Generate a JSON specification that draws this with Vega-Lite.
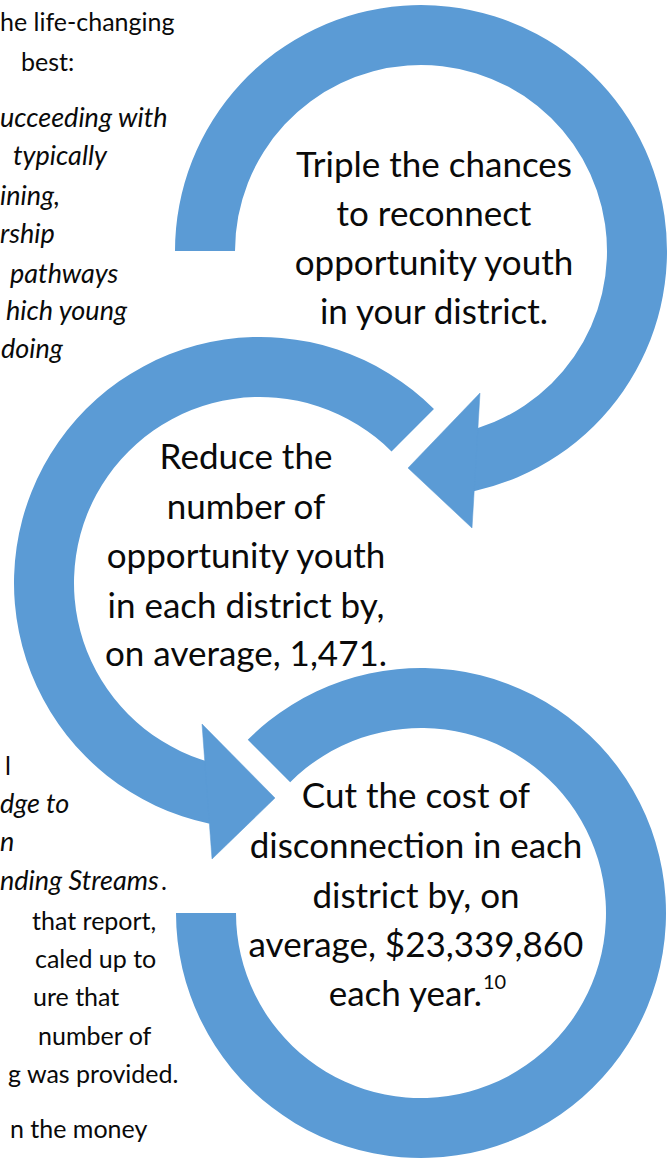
{
  "$schema": "https://vega.github.io/schema/vega-lite/v6.json",
  "width": 669,
  "height": 1159,
  "autosize": {"type": "none"},
  "padding": 0,
  "background": "#ffffff",
  "config": {"view": {"stroke": null}, "text": {"font": "Lato", "color": "#0a0a0a"}},
  "datasets": {
    "rings": [
      {"ring": "Triple", "cx": 421, "cy": 251, "t0": -90, "t1": 167.6, "ro": 246, "ri": 186},
      {"ring": "Reduce", "cx": 260, "cy": 583, "t0": 191.8, "t1": 405, "ro": 246, "ri": 186},
      {"ring": "Cut", "cx": 421, "cy": 913, "t0": -45, "t1": 270, "ro": 245, "ri": 185}
    ],
    "heads": [
      {"id": "a1", "i": 0, "x": 480, "y": 393},
      {"id": "a1", "i": 1, "x": 408, "y": 468},
      {"id": "a1", "i": 2, "x": 472, "y": 528},
      {"id": "a2", "i": 0, "x": 202, "y": 724},
      {"id": "a2", "i": 1, "x": 275, "y": 798},
      {"id": "a2", "i": 2, "x": 212, "y": 859}
    ],
    "ringText": [
      {"t": "Triple the chances", "x": 434, "y": 166},
      {"t": "to reconnect", "x": 434, "y": 215},
      {"t": "opportunity youth", "x": 434, "y": 264},
      {"t": "in your district.", "x": 434, "y": 313},
      {"t": "Reduce the", "x": 246, "y": 458},
      {"t": "number of", "x": 246, "y": 508},
      {"t": "opportunity youth", "x": 246, "y": 557},
      {"t": "in each district by,", "x": 246, "y": 607},
      {"t": "on average, 1,471.", "x": 246, "y": 655},
      {"t": "Cut the cost of", "x": 416, "y": 797},
      {"t": "disconnection in each", "x": 416, "y": 847},
      {"t": "district by, on", "x": 416, "y": 897},
      {"t": "average, $23,339,860", "x": 416, "y": 946}
    ],
    "ringTextEnd": [
      {"t": "each year.", "x": 482, "y": 995}
    ],
    "sup": [
      {"t": "10", "x": 483, "y": 983}
    ],
    "bodyNormal": [
      {"t": "he life-changing", "x": 0, "y": 23},
      {"t": "best:", "x": 21, "y": 63},
      {"t": "l", "x": 5, "y": 767},
      {"t": ".", "x": 161, "y": 882},
      {"t": "that report,", "x": 32, "y": 922},
      {"t": "caled up to", "x": 35, "y": 960},
      {"t": "ure that", "x": 33, "y": 998},
      {"t": "number of", "x": 38, "y": 1037},
      {"t": "g was provided.", "x": 8, "y": 1075},
      {"t": "n the money", "x": 10, "y": 1130}
    ],
    "bodyItalic": [
      {"t": "ucceeding with", "x": 0, "y": 119},
      {"t": "typically", "x": 13, "y": 157},
      {"t": "ining,", "x": 0, "y": 197},
      {"t": "rship", "x": 0, "y": 235},
      {"t": "pathways", "x": 10, "y": 275},
      {"t": "hich young", "x": 6, "y": 312},
      {"t": "doing", "x": 1, "y": 350},
      {"t": "dge to", "x": 0, "y": 805},
      {"t": "n", "x": 0, "y": 843},
      {"t": "nding Streams", "x": 0, "y": 882}
    ]
  },
  "layer": [
    {
      "data": {"name": "rings"},
      "mark": {"type": "arc", "color": "#5B9BD5", "fill": "#5B9BD5"},
      "encoding": {
        "x": {"field": "cx", "type": "quantitative", "scale": {"domain": [0, 669], "nice": false, "zero": false}, "axis": null},
        "y": {"field": "cy", "type": "quantitative", "scale": {"domain": [0, 1159], "nice": false, "zero": false, "reverse": true}, "axis": null},
        "theta": {"field": "t0", "type": "quantitative", "stack": null, "scale": {"domain": [0, 360], "range": [0, 6.283185307179586]}},
        "theta2": {"field": "t1"},
        "radius": {"field": "ro", "type": "quantitative", "scale": {"type": "linear", "domain": [0, 669], "range": [0, 669]}},
        "radius2": {"field": "ri"}
      }
    },
    {
      "data": {"name": "heads"},
      "mark": {"type": "line", "interpolate": "linear-closed", "color": "#5B9BD5", "fill": "#5B9BD5", "strokeWidth": 0.5},
      "encoding": {
        "x": {"field": "x", "type": "quantitative", "scale": {"domain": [0, 669], "nice": false, "zero": false}, "axis": null},
        "y": {"field": "y", "type": "quantitative", "scale": {"domain": [0, 1159], "nice": false, "zero": false, "reverse": true}, "axis": null},
        "detail": {"field": "id"},
        "order": {"field": "i", "type": "quantitative"}
      }
    },
    {
      "data": {"name": "ringText"},
      "mark": {"type": "text", "fontSize": 35, "align": "center", "baseline": "middle"},
      "encoding": {
        "x": {"field": "x", "type": "quantitative", "axis": null},
        "y": {"field": "y", "type": "quantitative", "axis": null},
        "text": {"field": "t"}
      }
    },
    {
      "data": {"name": "ringTextEnd"},
      "mark": {"type": "text", "fontSize": 35, "align": "right", "baseline": "middle"},
      "encoding": {
        "x": {"field": "x", "type": "quantitative", "axis": null},
        "y": {"field": "y", "type": "quantitative", "axis": null},
        "text": {"field": "t"}
      }
    },
    {
      "data": {"name": "sup"},
      "mark": {"type": "text", "fontSize": 20, "align": "left", "baseline": "middle"},
      "encoding": {
        "x": {"field": "x", "type": "quantitative", "axis": null},
        "y": {"field": "y", "type": "quantitative", "axis": null},
        "text": {"field": "t"}
      }
    },
    {
      "data": {"name": "bodyNormal"},
      "mark": {"type": "text", "fontSize": 25, "align": "left", "baseline": "middle", "clip": true},
      "encoding": {
        "x": {"field": "x", "type": "quantitative", "axis": null},
        "y": {"field": "y", "type": "quantitative", "axis": null},
        "text": {"field": "t"}
      }
    },
    {
      "data": {"name": "bodyItalic"},
      "mark": {"type": "text", "fontSize": 27, "fontStyle": "italic", "align": "left", "baseline": "middle", "clip": true},
      "encoding": {
        "x": {"field": "x", "type": "quantitative", "axis": null},
        "y": {"field": "y", "type": "quantitative", "axis": null},
        "text": {"field": "t"}
      }
    }
  ]
}
